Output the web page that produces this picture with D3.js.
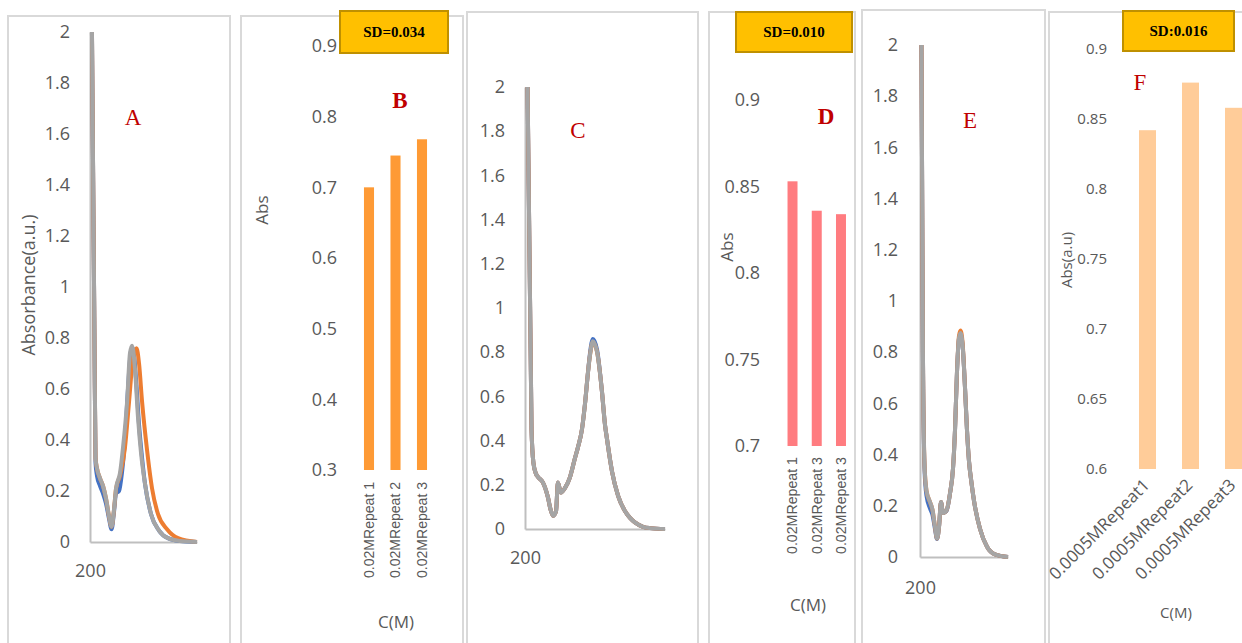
<!DOCTYPE html>
<html>
<head>
<meta charset="utf-8">
<script src="https://cdn.jsdelivr.net/npm/d3@7"></script>
<style>
body { margin: 0; background: #fff; }
svg { display: block; }
</style>
</head>
<body>
<div id="chart-area"></div>
<script>
// ---- data ----
var absTicks = [0, 0.2, 0.4, 0.6, 0.8, 1, 1.2, 1.4, 1.6, 1.8, 2];
var waveTicks = [200];

// spectra: [wavelength (nm), absorbance]
var specA_blue = [[211,2.0],[225,0.8],[231,0.31],[239,0.26],[256,0.22],[273,0.19],[290,0.15],[307,0.09],[321,0.05],[335,0.12],[346,0.19],[363,0.2],[379,0.27],[396,0.40],[413,0.60],[430,0.75],[441,0.76],[458,0.64],[475,0.46],[492,0.33],[508,0.23],[542,0.11],[587,0.045],[637,0.015],[705,0.004],[800,0]];
var specA_orange = [[211,2.0],[225,0.8],[231,0.33],[239,0.29],[256,0.25],[273,0.22],[290,0.17],[307,0.10],[321,0.06],[335,0.13],[346,0.21],[368,0.26],[396,0.37],[419,0.55],[441,0.72],[461,0.76],[475,0.70],[492,0.55],[520,0.36],[548,0.21],[581,0.11],[632,0.05],[694,0.015],[800,0]];
var specA_gray = [[211,2.0],[225,0.8],[231,0.33],[239,0.29],[256,0.25],[273,0.22],[290,0.17],[307,0.10],[321,0.06],[335,0.13],[346,0.21],[368,0.27],[385,0.37],[408,0.55],[424,0.74],[436,0.77],[452,0.68],[469,0.49],[486,0.35],[508,0.23],[542,0.11],[587,0.045],[637,0.015],[705,0.004],[800,0]];

var specC_blue = [[211,2.0],[228,0.45],[236,0.30],[247,0.25],[256,0.235],[277,0.21],[299,0.14],[309,0.09],[320,0.06],[333,0.08],[341,0.21],[354,0.165],[371,0.185],[393,0.235],[414,0.32],[427,0.37],[444,0.45],[457,0.565],[470,0.71],[479,0.80],[491,0.86],[509,0.81],[530,0.62],[543,0.47],[551,0.41],[573,0.26],[599,0.15],[629,0.08],[650,0.05],[671,0.03],[706,0.01],[736,0.004],[800,0]];
var specC_orange = [[211,2.0],[228,0.45],[236,0.30],[247,0.25],[256,0.235],[277,0.21],[299,0.14],[309,0.09],[320,0.06],[333,0.08],[341,0.21],[354,0.165],[371,0.185],[393,0.235],[414,0.32],[427,0.37],[444,0.45],[457,0.565],[470,0.71],[479,0.79],[491,0.845],[509,0.80],[530,0.62],[543,0.47],[551,0.41],[573,0.26],[599,0.15],[629,0.08],[650,0.05],[671,0.03],[706,0.01],[736,0.004],[800,0]];
var specC_gray = [[211,2.0],[228,0.45],[236,0.30],[247,0.25],[256,0.235],[277,0.21],[299,0.14],[309,0.09],[320,0.06],[333,0.08],[341,0.21],[354,0.165],[371,0.185],[393,0.235],[414,0.32],[427,0.37],[444,0.45],[457,0.565],[470,0.71],[479,0.79],[491,0.85],[509,0.80],[530,0.62],[543,0.47],[551,0.41],[573,0.26],[599,0.15],[629,0.08],[650,0.05],[671,0.03],[706,0.01],[736,0.004],[800,0]];

var specE_blue = [[210,2.0],[220,0.8],[231,0.34],[244,0.24],[268,0.19],[285,0.165],[302,0.11],[316,0.07],[330,0.12],[343,0.215],[357,0.172],[381,0.18],[405,0.25],[425,0.345],[439,0.5],[452,0.72],[466,0.855],[476,0.87],[490,0.83],[507,0.66],[520,0.5],[534,0.375],[551,0.29],[568,0.22],[609,0.11],[657,0.04],[711,0.01],[800,0]];
var specE_orange = [[210,2.0],[220,0.8],[231,0.36],[244,0.26],[268,0.215],[285,0.185],[302,0.12],[316,0.072],[330,0.12],[343,0.215],[357,0.172],[381,0.183],[405,0.25],[425,0.345],[439,0.5],[452,0.72],[466,0.865],[476,0.885],[490,0.84],[507,0.66],[520,0.5],[534,0.375],[551,0.29],[568,0.22],[609,0.11],[657,0.04],[711,0.01],[800,0]];
var specE_gray = [[210,2.0],[220,0.8],[231,0.36],[244,0.26],[268,0.215],[285,0.185],[302,0.12],[316,0.072],[330,0.12],[343,0.215],[357,0.172],[381,0.183],[405,0.25],[425,0.345],[439,0.5],[452,0.72],[466,0.855],[476,0.875],[490,0.83],[507,0.66],[520,0.5],[534,0.375],[551,0.29],[568,0.22],[609,0.11],[657,0.04],[711,0.01],[800,0]];

// bar panels
var barsB_labels = ["0.02MRepeat 1", "0.02MRepeat 2", "0.02MRepeat 3"];
var barsB_values = [0.70, 0.745, 0.768];
var barsB_ticks = [0.3, 0.4, 0.5, 0.6, 0.7, 0.8, 0.9];

var barsD_labels = ["0.02MRepeat 1", "0.02MRepeat 3", "0.02MRepeat 3"];
var barsD_values = [0.853, 0.836, 0.834];
var barsD_ticks = [0.7, 0.75, 0.8, 0.85, 0.9];

var barsF_labels = ["0.0005MRepeat1", "0.0005MRepeat2", "0.0005MRepeat3"];
var barsF_values = [0.842, 0.876, 0.858];
var barsF_ticks = [0.6, 0.65, 0.7, 0.75, 0.8, 0.85, 0.9];

var sdTexts = ["SD=0.034", "SD=0.010", "SD:0.016"];

// ---- drawing ----
var seriesColor = ["#4472C4", "#ED7D31", "#A5A5A5"];
var tickColor = "#595959";
var font = "'Open Sans', 'Segoe UI', sans-serif";
var narrow = "'Liberation Sans Narrow', 'Arial Narrow', 'Liberation Sans', sans-serif";

var svg = d3.select("#chart-area")
.append("svg")
	.attr("width", 1242)
	.attr("height", 643);

// panel frames
[[8, 16, 222], [241, 16, 222], [467, 12, 231], [709, 12, 146], [862, 10, 183], [1049, 12, 210]]
	.forEach(function(f){
		svg.append("rect")
			.attr("x", f[0]).attr("y", f[1])
			.attr("width", f[2]).attr("height", 700)
			.attr("fill", "none")
			.attr("stroke", "#D9D9D9")
			.attr("stroke-width", 2);
	});

function drawSpectrum(p){
	var x = d3.scaleLinear().domain([200, 800]).range([p.x0, p.x1]);
	var y = d3.scaleLinear().domain([0, 2]).range([p.yb, p.yt]);

	var yAxis = svg.append("g")
		.attr("transform", "translate(" + p.x0 + ",0)")
		.call(d3.axisLeft(y).tickValues(absTicks).tickSize(0).tickSizeOuter(0).tickPadding(p.pad)
			.tickFormat(function(d){ return String(d); }));
	var xAxis = svg.append("g")
		.attr("transform", "translate(0," + p.yb + ")")
		.call(d3.axisBottom(x).tickValues(waveTicks).tickSize(0).tickSizeOuter(0).tickPadding(p.xpad));

	[yAxis, xAxis].forEach(function(a){
		a.select(".domain").attr("stroke", "#BFBFBF").attr("stroke-width", 2);
		a.selectAll("text")
			.attr("font-family", font)
			.attr("font-size", 18)
			.attr("fill", tickColor);
	});

	var line = d3.line()
		.x(function(d){ return x(d[0]); })
		.y(function(d){ return y(d[1]); })
		.curve(d3.curveMonotoneX);

	p.series.forEach(function(s, i){
		svg.append("path")
			.datum(s)
			.attr("d", line)
			.attr("fill", "none")
			.attr("stroke", seriesColor[i])
			.attr("stroke-width", 4)
			.attr("stroke-linejoin", "round");
	});

	svg.append("text")
		.attr("x", p.lx).attr("y", p.ly)
		.attr("text-anchor", "middle")
		.attr("font-family", "'Liberation Serif', 'Times New Roman', serif")
		.attr("font-size", 23)
		.attr("fill", "#C00000")
		.text(p.letter);
}

function drawBars(p){
	var idx = p.values.map(function(d, i){ return i; });
	var x = d3.scaleBand().domain(idx).range([p.x0, p.x1])
		.paddingInner(p.padIn).paddingOuter(p.padIn / 2);
	var y = d3.scaleLinear().domain([p.ticks[0], p.ticks[p.ticks.length - 1]]).range([p.yb, p.yt]);

	var yAxis = svg.append("g")
		.attr("transform", "translate(" + p.labelX + ",0)")
		.call(d3.axisLeft(y).tickValues(p.ticks).tickSize(0).tickPadding(0)
			.tickFormat(function(d){ return String(+d.toFixed(2)); }));
	yAxis.select(".domain").remove();
	yAxis.selectAll("text")
		.attr("font-family", font)
		.attr("font-size", p.tickSize)
		.attr("fill", tickColor);

	svg.selectAll(null)
		.data(p.values)
		.enter()
		.append("rect")
			.attr("x", function(d, i){ return x(i); })
			.attr("width", x.bandwidth())
			.attr("y", function(d){ return y(d); })
			.attr("height", function(d){ return y(p.ticks[0]) - y(d); })
			.attr("fill", p.color);

	// category labels
	svg.selectAll(null)
		.data(p.labels)
		.enter()
		.append("text")
			.attr("transform", function(d, i){
				return "translate(" + (x(i) + x.bandwidth() / 2 + p.catDx) + "," + p.catY + ") rotate(" + p.catRot + ")";
			})
			.attr("text-anchor", "end")
			.attr("dy", "0.35em")
			.attr("font-family", p.catFont)
			.attr("font-size", p.catSize)
			.attr("fill", tickColor)
			.each(function(){
				if (p.catLen) {
					d3.select(this).attr("textLength", p.catLen).attr("lengthAdjust", "spacingAndGlyphs");
				}
			})
			.text(function(d){ return d; });

	// axis titles
	svg.append("text")
		.attr("transform", "translate(" + p.yTitle[0] + "," + p.yTitle[1] + ") rotate(-90)")
		.attr("text-anchor", "middle")
		.attr("dy", "0.35em")
		.attr("font-family", font)
		.attr("font-size", p.titleSize)
		.attr("fill", tickColor)
		.text(p.yTitleText);
	svg.append("text")
		.attr("x", p.xTitle[0]).attr("y", p.xTitle[1])
		.attr("text-anchor", "middle")
		.attr("dy", "0.35em")
		.attr("font-family", font)
		.attr("font-size", p.titleSize)
		.attr("fill", tickColor)
		.text("C(M)");

	// SD box
	svg.append("rect")
		.attr("x", p.box[0]).attr("y", p.box[1])
		.attr("width", p.box[2]).attr("height", p.box[3])
		.attr("fill", "#FFC000")
		.attr("stroke", "#BF9000")
		.attr("stroke-width", 2);
	svg.append("text")
		.attr("x", p.box[0] + p.box[2] / 2).attr("y", p.box[1] + p.box[3] / 2)
		.attr("text-anchor", "middle")
		.attr("dy", "0.35em")
		.attr("font-family", "'Liberation Serif', 'Times New Roman', serif")
		.attr("font-weight", "bold")
		.attr("font-size", 15)
		.attr("fill", "#000")
		.text(p.sd);

	svg.append("text")
		.attr("x", p.lx).attr("y", p.ly)
		.attr("text-anchor", "middle")
		.attr("font-family", "'Liberation Serif', 'Times New Roman', serif")
		.attr("font-size", 23)
		.attr("font-weight", p.bold ? "bold" : "normal")
		.attr("fill", "#C00000")
		.text(p.letter);
}

// A
drawSpectrum({x0: 90, x1: 197, yt: 32, yb: 542, pad: 20, xpad: 22,
	series: [specA_blue, specA_orange, specA_gray], letter: "A", lx: 133, ly: 125});
svg.append("text")
	.attr("transform", "translate(29,285) rotate(-90)")
	.attr("text-anchor", "middle")
	.attr("dy", "0.35em")
	.attr("font-family", font)
	.attr("font-size", 18)
	.attr("fill", tickColor)
	.text("Absorbance(a.u.)");

// C
drawSpectrum({x0: 525, x1: 665, yt: 87, yb: 529, pad: 20, xpad: 22,
	series: [specC_blue, specC_orange, specC_gray], letter: "C", lx: 578, ly: 138});

// E
drawSpectrum({x0: 920, x1: 1008, yt: 45, yb: 557, pad: 22, xpad: 24,
	series: [specE_blue, specE_orange, specE_gray], letter: "E", lx: 970, ly: 128});

// B
drawBars({values: barsB_values, labels: barsB_labels, ticks: barsB_ticks,
	x0: 355.75, x1: 435.25, padIn: 0.62, yt: 46, yb: 470, labelX: 337, tickSize: 18,
	color: "#FE9A35", catY: 482, catDx: 0, catRot: -90, catFont: narrow, catSize: 14, catLen: 96,
	yTitle: [262, 210], yTitleText: "Abs", xTitle: [396, 622], titleSize: 17,
	box: [340, 11, 108, 42], sd: sdTexts[0], letter: "B", lx: 400, ly: 108, bold: true});

// D
drawBars({values: barsD_values, labels: barsD_labels, ticks: barsD_ticks,
	x0: 780.4, x1: 853.1, padIn: 0.588, yt: 100, yb: 446, labelX: 760, tickSize: 18,
	color: "#FF7C80", catY: 457, catDx: 0, catRot: -90, catFont: narrow, catSize: 14, catLen: 97,
	yTitle: [727, 247], yTitleText: "Abs", xTitle: [808, 605], titleSize: 17,
	box: [736, 12, 116, 40], sd: sdTexts[1], letter: "D", lx: 826, ly: 124, bold: true});

// F
drawBars({values: barsF_values, labels: barsF_labels, ticks: barsF_ticks,
	x0: 1126, x1: 1255, padIn: 0.605, yt: 49, yb: 469, labelX: 1107, tickSize: 15,
	color: "#FFCC99", catY: 482, catDx: -1, catRot: -45, catFont: font, catSize: 17, catLen: 0,
	yTitle: [1067, 260], yTitleText: "Abs(a.u)", xTitle: [1176, 613], titleSize: 15,
	box: [1123, 11, 111, 40], sd: sdTexts[2], letter: "F", lx: 1140, ly: 90, bold: false});
</script>
</body>
</html>
